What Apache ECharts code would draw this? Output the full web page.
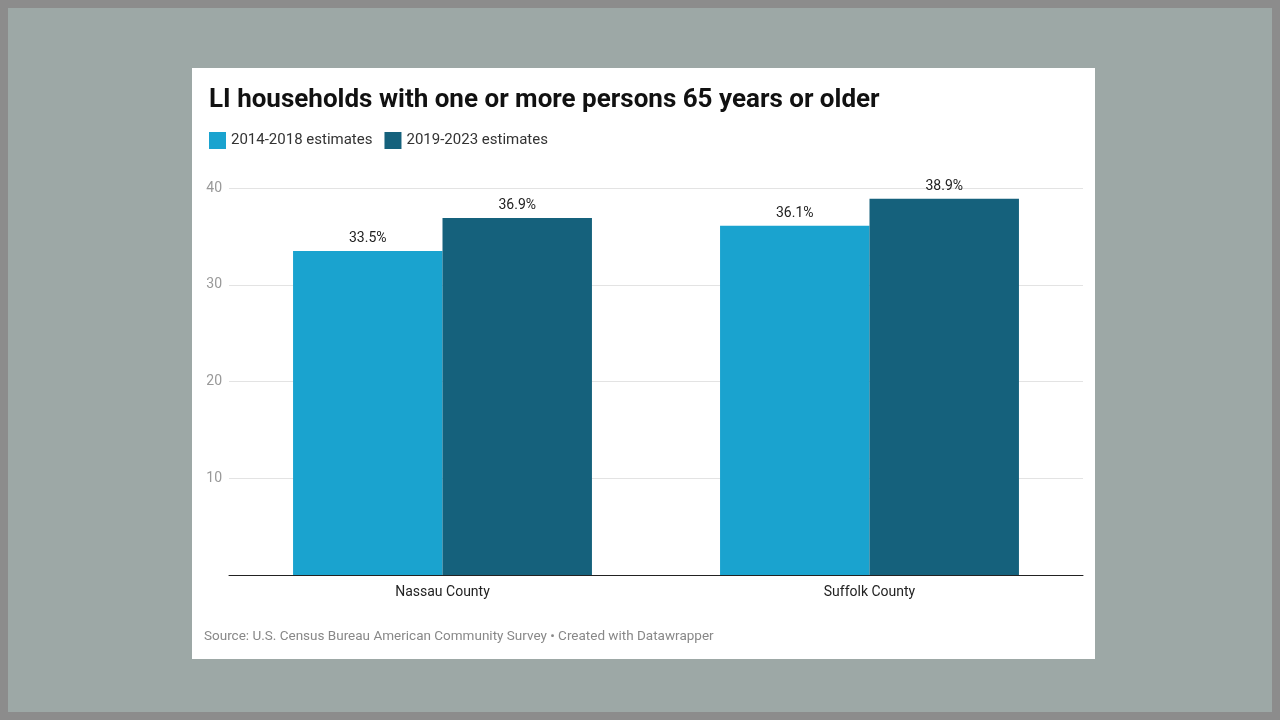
<!DOCTYPE html>
<html><head><meta charset="utf-8">
<script src="https://cdn.jsdelivr.net/npm/echarts@6/dist/echarts.min.js"></script>
<style>
html,body{margin:0;padding:0;}
body{width:1280px;height:720px;background:#8c8c8c;position:relative;font-family:Roboto,sans-serif;}
#bg{position:absolute;left:8px;top:8px;width:1264px;height:704px;background:#9da8a6;}
#card{position:absolute;left:192px;top:68px;width:903px;height:591px;background:#fff;}
#chart{width:903px;height:591px;}
</style></head>
<body><div id="bg"></div><div id="card"><div id="chart"></div></div>
<script>
var categories = ['Nassau County', 'Suffolk County'];
var est2014 = [33.5, 36.1];
var est2019 = [36.9, 38.9];
var chart = echarts.init(document.getElementById('chart'));
var label = {show: true, position: 'top', color: '#222', fontSize: 14, fontFamily: 'Roboto',
    formatter: function (p) { return p.value.toFixed(1) + '%'; }};
chart.setOption({
    title: {text: 'LI households with one or more persons 65 years or older', left: 12, top: 14,
        textStyle: {fontSize: 26, fontWeight: 'bold', color: '#111', fontFamily: 'Roboto'}},
    legend: {left: 12, top: 59, itemWidth: 17, itemHeight: 17, icon: 'rect', itemGap: 12,
        textStyle: {fontSize: 15, color: '#333', fontFamily: 'Roboto'}},
    graphic: [{type: 'text', left: 12, top: 562,
        style: {text: 'Source: U.S. Census Bureau American Community Survey \u2022 Created with Datawrapper',
            fill: '#888', fontSize: 13.5, fontFamily: 'Roboto'}}],
    grid: {left: 37, right: 12, top: 120, bottom: 84},
    xAxis: {type: 'category', data: categories,
        axisLine: {lineStyle: {color: '#222'}}, axisTick: {show: false},
        axisLabel: {fontSize: 14, color: '#222', margin: 10, fontFamily: 'Roboto'}},
    yAxis: {type: 'value', min: 0, max: 40, interval: 10,
        axisLabel: {color: '#999', fontSize: 14, margin: 7, fontFamily: 'Roboto',
            formatter: function (v) { return v === 0 ? '' : v; }},
        splitLine: {lineStyle: {color: '#e3e3e3'}}},
    series: [
        {name: '2014-2018 estimates', type: 'bar', data: est2014, barGap: '0%', barCategoryGap: '30%',
            itemStyle: {color: '#1aa3cf'}, label: label},
        {name: '2019-2023 estimates', type: 'bar', data: est2019,
            itemStyle: {color: '#15617c'}, label: label}
    ]
});
</script></body></html>
